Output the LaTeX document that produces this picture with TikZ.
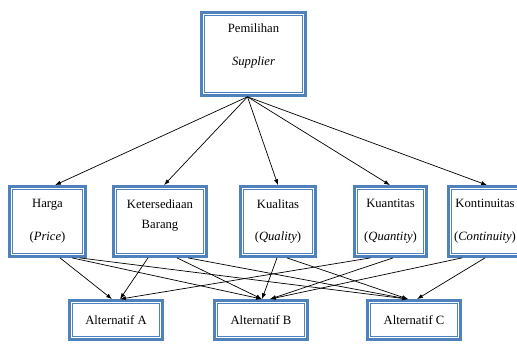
\documentclass[tikz,border=0pt]{standalone}
\usepackage{fontspec}
\setmainfont{Liberation Serif}
\usepackage{tikz}
\usetikzlibrary{arrows.meta, positioning, calc}
\definecolor{boxblue}{RGB}{79, 129, 189}

\tikzset{
    kotak/.style={draw=boxblue, line width=2.5pt, fill=white, align=center,
        font=\fontsize{10.8}{13}\selectfont, inner sep=0pt},
    panah/.style={-{Latex[length=5pt,width=3.6pt]}, line width=0.6pt, black}
}

\begin{document}
\begin{tikzpicture}[x=0.03cm, y=-0.03cm]
    \useasboundingbox (0,0) rectangle (517,345);

    % Goal
    \node[kotak, minimum width=88.5pt, minimum height=70.6pt] (pilih) at (253.5,54)
        {Pemilihan\\[15pt]\textit{Supplier}\\[3pt]};

    % Criteria
    \node[kotak, minimum width=64.7pt, minimum height=59.6pt] (harga) at (47.5,221.5)
        {Harga\\[15pt](\textit{Price})};
    \node[kotak, minimum width=79.1pt, minimum height=59.6pt] (sedia) at (160,221.5)
        {Ketersediaan\\[4pt]Barang\\[0pt]};
    \node[kotak, minimum width=63.8pt, minimum height=59.6pt] (kual) at (278,221.5)
        {Kualitas\\[15pt](\textit{Quality})};
    \node[kotak, minimum width=61.3pt, minimum height=59.6pt] (kuan) at (390.5,221.5)
        {Kuantitas\\[15pt](\textit{Quantity})};
    \node[kotak, minimum width=62.1pt, minimum height=59.6pt] (kont) at (485,221.5)
        {Kontinuitas\\[15pt](\textit{Continuity})};

    % Alternatives
    \node[kotak, minimum width=79.1pt, minimum height=33.2pt] (altA) at (116,320) {Alternatif A};
    \node[kotak, minimum width=79.1pt, minimum height=33.2pt] (altB) at (261,320) {Alternatif B};
    \node[kotak, minimum width=79.1pt, minimum height=33.2pt] (altC) at (414,320) {Alternatif C};

    % Inner border lines
    \foreach \n in {pilih, harga, sedia, kual, kuan, kont, altA, altB, altC}
        \draw[boxblue, line width=0.8pt] ([shift={(4pt,4pt)}]\n.south west)
            rectangle ([shift={(-4pt,-4pt)}]\n.north east);

    % Goal -> criteria
    \foreach \t/\dt in {harga/7.5, sedia/4, kual/0, kuan/-0.5, kont/2}
        \draw[panah] ($(pilih.south)+(-6,0)$) -- ($(\t.north)+(\dt,0)$);

    % Criteria -> alternatives
    \foreach \s/\ds/\t/\dt in {harga/12.5/altA/-4, harga/24.5/altB/1, harga/32/altC/-6,
            sedia/-12/altA/4, sedia/17/altB/1, sedia/28/altC/-6,
            kual/-1/altB/1, kual/9/altC/-6,
            kuan/-20/altA/4, kuan/2.5/altB/9,
            kont/-23/altB/9, kont/0/altC/3}
        \draw[panah] ($(\s.south)+(\ds,0)$) -- ($(\t.north)+(\dt,0)$);
\end{tikzpicture}
\end{document}
